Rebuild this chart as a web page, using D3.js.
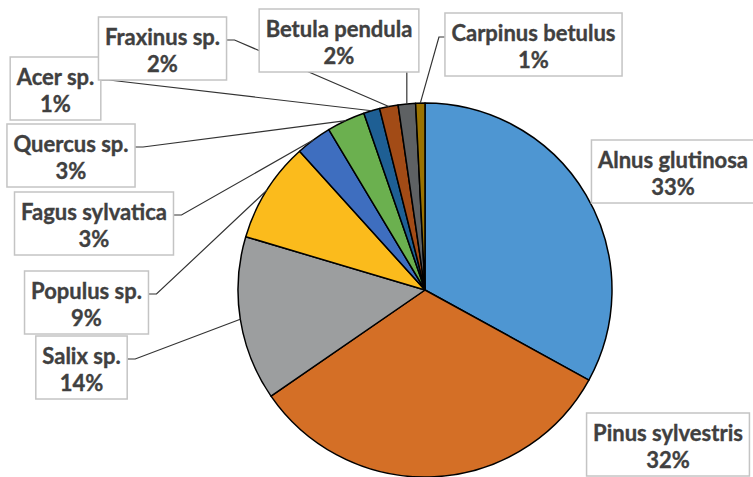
<html>
  <head>
    <meta charset="UTF-8">
    <script src="https://d3js.org/d3.v7.min.js"></script>
    <style type="text/css">
    body { margin: 0; background: #fff; font-family: 'Lato', sans-serif; }
    </style>
  </head>
  <body>
  </body>
  <script>
    // tree species shares, clockwise from 12 o'clock
    var species = ["Alnus glutinosa", "Pinus sylvestris", "Salix sp.", "Populus sp.",
      "Fagus sylvatica", "Quercus sp.", "Acer sp.", "Fraxinus sp.", "Betula pendula", "Carpinus betulus"];
    var shares = [33.0, 32.4, 14.2, 8.7, 3.1, 3.3, 1.4, 1.6, 1.5, 0.8];

    var colors = ["#4e96d2", "#d46f26", "#9c9e9f", "#fbbb1c", "#3e6ebf",
      "#6bb04f", "#1e5f94", "#a24b16", "#5e6163", "#9a7200"];

    // label box layout: centre x, top y, where the leader line leaves the box
    var labelLayout = {
      "Alnus glutinosa":  {cx: 673,   top: 140, side: null},
      "Pinus sylvestris": {cx: 668,   top: 413, side: null},
      "Salix sp.":        {cx: 81.5,  top: 336, side: "right"},
      "Populus sp.":      {cx: 86.5,  top: 271, side: "right"},
      "Fagus sylvatica":  {cx: 94,    top: 192, side: "right"},
      "Quercus sp.":      {cx: 71,    top: 124, side: "right"},
      "Acer sp.":         {cx: 55.5,  top: 57,  side: "right"},
      "Fraxinus sp.":     {cx: 162.5, top: 17,  side: "right"},
      "Betula pendula":   {cx: 339,   top: 9,   side: "bottom"},
      "Carpinus betulus": {cx: 533.5, top: 13,  side: "left"}
    };

    var width = 753, height = 477;
    var cx = 425, cy = 290, radius = 187;
    var boxH = 63;

    var svg = d3.select("body").append("svg")
      .attr("width", width)
      .attr("height", height);

    var data = species.map(function(s, i) { return {name: s, value: shares[i], color: colors[i]}; });

    var pie = d3.pie().sort(null).value(function(d) { return d.value; });
    var arcs = pie(data);
    var arc = d3.arc().innerRadius(0).outerRadius(radius);
    var edge = d3.arc().innerRadius(radius).outerRadius(radius);

    var g = svg.append("g").attr("transform", "translate(" + cx + "," + cy + ")");
    g.selectAll("path.slice")
      .data(arcs)
      .enter().append("path")
        .attr("class", "slice")
        .attr("d", arc)
        .attr("fill", function(d) { return d.data.color; })
        .attr("stroke", "#000")
        .attr("stroke-width", 1.5)
        .attr("stroke-linejoin", "round");

    var lines = svg.append("g");
    var labels = svg.append("g");

    function addText(sel, x, y, txt) {
      return sel.append("text")
        .attr("x", x).attr("y", y)
        .attr("text-anchor", "middle")
        .style("font-size", "22px").style("font-weight", "bold")
        .attr("fill", "#404040")
        .attr("stroke", "#404040")
        .attr("stroke-width", 0.35)
        .text(txt);
    }

    arcs.forEach(function(d) {
      var lay = labelLayout[d.data.name];
      var lg = labels.append("g");
      var rect = lg.append("rect");
      var t1 = addText(lg, lay.cx, lay.top + 28, d.data.name);
      addText(lg, lay.cx, lay.top + 55, Math.round(d.data.value) + "%");
      var w = t1.node().getComputedTextLength() + 13;
      var x0 = lay.cx - w / 2;
      rect.attr("x", x0).attr("y", lay.top)
        .attr("width", w).attr("height", boxH)
        .attr("fill", "#fff")
        .attr("stroke", "#c4c4c4")
        .attr("stroke-width", 1.5);

      if (!lay.side) return;
      var p = edge.centroid(d);
      var px = cx + p[0], py = cy + p[1];
      var pts;
      if (lay.side === "right") {
        var ax = x0 + w, ay = lay.top + 23;
        pts = [[ax, ay], [ax + 8, ay], [px, py]];
      } else if (lay.side === "left") {
        var ax = x0, ay = lay.top + 24;
        pts = [[ax, ay], [ax - 6, ay], [px, py]];
      } else {
        pts = [[px, lay.top + boxH], [px, py]];
      }
      lines.append("path")
        .attr("d", d3.line()(pts))
        .attr("fill", "none")
        .attr("stroke", "#333")
        .attr("stroke-width", 1.2);
    });
  </script>
</html>
